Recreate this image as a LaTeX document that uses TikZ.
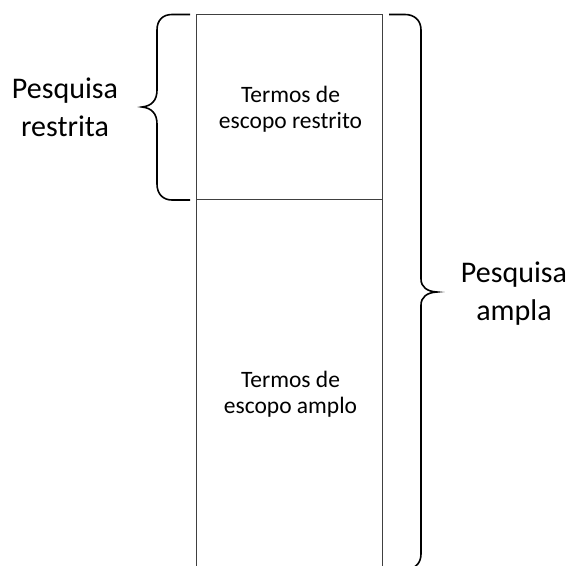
\documentclass[tikz,border=0pt]{standalone}
\usepackage{fontspec}
\setmainfont{Carlito}
\begin{document}
\begin{tikzpicture}[x=1pt,y=-1pt,
  boxstyle/.style={draw=black!75,line width=0.9pt,inner sep=0pt},
  bracestyle/.style={draw=black,line width=1.6pt},
  biglabel/.style={align=center,font=\fontsize{30}{38}\selectfont,inner sep=0pt},
  smalllabel/.style={align=center,font=\fontsize{23.5}{26}\selectfont,inner sep=0pt}]
\useasboundingbox (0,0) rectangle (569,565);
\clip (0,0) rectangle (569,565);
\node[boxstyle,minimum width=186pt,minimum height=185pt] (topbox) at (289,106.5) {};
\node[boxstyle,minimum width=186pt,minimum height=386pt] (botbox) at (289,392) {};
\node[smalllabel] (toptext) at (290.5,109.5) {Termos de\\escopo restrito};
\node[smalllabel] (bottext) at (290.5,394.5) {Termos de\\escopo amplo};
\node[biglabel] (leftlabel) at (65,107.5) {Pesquisa\\restrita};
\node[biglabel] (rightlabel) at (514,294) {Pesquisa\\ampla};
% left brace
\draw[bracestyle] (190,14.5) -- (172,14.5) .. controls (163,14.5) and (157,20) .. (157,30)
  -- (157,90) .. controls (157,100) and (152,106) .. (142,107)
  .. controls (152,108) and (157,114) .. (157,124)
  -- (157,184) .. controls (157,194) and (163,200) .. (172,200) -- (190,200);
% right brace
\draw[bracestyle] (389,14.5) -- (405,14.5) .. controls (414,14.5) and (421,20) .. (421,30)
  -- (421,279) .. controls (421,287) and (427,291.5) .. (437,292)
  .. controls (427,292.5) and (421,297) .. (421,305)
  -- (421,554) .. controls (421,564) and (414,569.5) .. (405,569.5) -- (389,569.5);
\end{tikzpicture}
\end{document}
